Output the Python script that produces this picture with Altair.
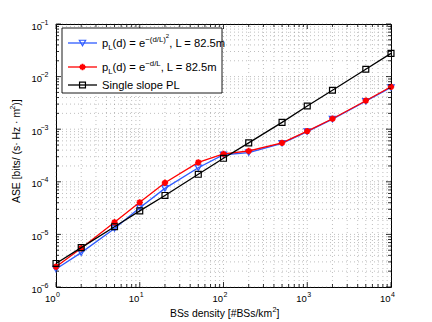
import altair as alt
import pandas as pd

# ---------------- data ----------------
density = [1, 2, 5, 10, 20, 50, 100, 200, 500, 1000, 2000, 5000, 10000]
ase_gauss = [2.2e-6, 4.5e-6, 1.3e-5, 3.2e-5, 7.5e-5, 1.85e-4, 3.27e-4, 3.6e-4, 5.4e-4, 9.0e-4, 1.55e-3, 3.4e-3, 6.2e-3]
ase_exp = [2.43e-6, 5.45e-6, 1.7e-5, 4.07e-5, 9.6e-5, 2.34e-4, 3.38e-4, 3.85e-4, 5.5e-4, 9.2e-4, 1.58e-3, 3.48e-3, 6.4e-3]
ase_single = [2.8e-6, 5.6e-6, 1.4e-5, 2.8e-5, 5.5e-5, 1.39e-4, 2.8e-4, 5.5e-4, 1.35e-3, 2.76e-3, 5.5e-3, 1.38e-2, 2.77e-2]

x_major = [1, 10, 100, 1000, 10000]
x_major_exp = ["0", "1", "2", "3", "4"]
y_major = [1e-6, 1e-5, 1e-4, 1e-3, 1e-2, 1e-1]
y_major_exp = ["\u22126", "\u22125", "\u22124", "\u22123", "\u22122", "\u22121"]

x_minor = [m * 10 ** k for k in range(0, 4) for m in range(2, 10)]
y_minor = [m * 10.0 ** k for k in range(-6, -1) for m in range(2, 10)]

W, H = 335, 263
FONT = "Liberation Sans"

xs = alt.Scale(type="log", domain=[1, 10000], nice=False)
ys = alt.Scale(type="log", domain=[1e-6, 1e-1], nice=False)

df = pd.DataFrame({"d": density, "g": ase_gauss, "e": ase_exp, "s": ase_single})
one = pd.DataFrame({"a": [0]})

AW = {" ": 278, "(": 333, ")": 333, "d": 556, "=": 584, "e": 556, "p": 556, "L": 556,
      ",": 278, ".": 278, "m": 833, "/": 278, "\u2212": 584, "S": 667, "i": 222, "n": 556,
      "g": 556, "l": 222, "o": 556, "P": 667, "B": 667, "s": 500, "#": 556, "k": 500,
      "y": 500, "t": 278, "[": 278, "]": 278, "A": 667, "E": 667, "b": 556, "H": 722,
      "z": 500, "\u00b7": 278}

def tw(s, fs):
    return sum(AW.get(c, 556) for c in s) * fs / 1000.0

# ---------------- grid ----------------
grid_x = alt.Chart(pd.DataFrame({"v": x_major + x_minor})).mark_rule(
    color="#666", strokeDash=[1, 3], strokeWidth=0.7, opacity=0.6
).encode(x=alt.X("v:Q", scale=xs, axis=None))
grid_y = alt.Chart(pd.DataFrame({"v": y_major + y_minor})).mark_rule(
    color="#666", strokeDash=[1, 3], strokeWidth=0.7, opacity=0.6
).encode(y=alt.Y("v:Q", scale=ys, axis=None))

# ---------------- inward ticks ----------------
def xticks(vals, length):
    base = alt.Chart(pd.DataFrame({"v": vals}))
    b = base.mark_rule(color="black", strokeWidth=0.8).encode(
        x=alt.X("v:Q", scale=xs, axis=None), y=alt.value(H), y2=alt.value(H - length))
    t = base.mark_rule(color="black", strokeWidth=0.8).encode(
        x=alt.X("v:Q", scale=xs, axis=None), y=alt.value(0), y2=alt.value(length))
    return [b, t]

def yticks(vals, length):
    base = alt.Chart(pd.DataFrame({"v": vals}))
    l = base.mark_rule(color="black", strokeWidth=0.8).encode(
        y=alt.Y("v:Q", scale=ys, axis=None), x=alt.value(0), x2=alt.value(length))
    r = base.mark_rule(color="black", strokeWidth=0.8).encode(
        y=alt.Y("v:Q", scale=ys, axis=None), x=alt.value(W), x2=alt.value(W - length))
    return [l, r]

ticks = xticks(x_major, 5) + xticks(x_minor, 3) + yticks(y_major, 5) + yticks(y_minor, 3)

# ---------------- tick labels ----------------
xl = pd.DataFrame({"v": x_major, "e": x_major_exp})
xlab_base = alt.Chart(xl).mark_text(font=FONT, fontSize=9.5, align="right", baseline="middle", dx=-0.5).encode(
    x=alt.X("v:Q", scale=xs, axis=None), y=alt.value(H + 12), text=alt.value("10"))
xlab_exp = alt.Chart(xl).mark_text(font=FONT, fontSize=7, align="left", baseline="middle", dx=0).encode(
    x=alt.X("v:Q", scale=xs, axis=None), y=alt.value(H + 7.5), text="e:N")

yl = pd.DataFrame({"v": y_major, "e": y_major_exp})
ylab_base = alt.Chart(yl).mark_text(font=FONT, fontSize=9.5, align="right", baseline="middle", dy=2.5).encode(
    y=alt.Y("v:Q", scale=ys, axis=None), x=alt.value(-14), text=alt.value("10"))
ylab_exp = alt.Chart(yl).mark_text(font=FONT, fontSize=7, align="right", baseline="middle", dy=-1.5).encode(
    y=alt.Y("v:Q", scale=ys, axis=None), x=alt.value(-7.5), text="e:N")

# ---------------- titles ----------------
TF, TS = 10.4, 7.2
xt_main = "BSs density [#BSs/km"
xt0 = 114
xt1 = xt0 + tw(xt_main, TF) + 0.3
xt2 = xt1 + tw("2", TS)
XTY = H + 27
xtitle = alt.Chart(one).mark_text(font=FONT, fontSize=TF, align="left", baseline="middle").encode(
    x=alt.value(xt0), y=alt.value(XTY), text=alt.value(xt_main))
xtitle2 = alt.Chart(one).mark_text(font=FONT, fontSize=TS, align="left", baseline="middle").encode(
    x=alt.value(xt1), y=alt.value(XTY - 4), text=alt.value("2"))
xtitle3 = alt.Chart(one).mark_text(font=FONT, fontSize=TF, align="left", baseline="middle").encode(
    x=alt.value(xt2), y=alt.value(XTY), text=alt.value("]"))

yt_main = "ASE [bits/ (s\u00b7 Hz \u00b7 m"
yt0 = 179
yt1 = yt0 - tw(yt_main, TF) - 0.3
yt2 = yt1 - tw("2", TS)
ytitle = alt.Chart(one).mark_text(font=FONT, fontSize=TF, align="left", baseline="middle", angle=270).encode(
    x=alt.value(-39), y=alt.value(yt0), text=alt.value(yt_main))
ytitle2 = alt.Chart(one).mark_text(font=FONT, fontSize=TS, align="left", baseline="middle", angle=270).encode(
    x=alt.value(-43), y=alt.value(yt1), text=alt.value("2"))
ytitle3 = alt.Chart(one).mark_text(font=FONT, fontSize=TF, align="left", baseline="middle", angle=270).encode(
    x=alt.value(-39), y=alt.value(yt2), text=alt.value(")]"))

# ---------------- series ----------------
asterisk = "M-1,0L1,0M0,-1L0,1M-0.7,-0.7L0.7,0.7M-0.7,0.7L0.7,-0.7"
BLUE = "#2f5bff"

def series(field, color, shape, size, filled=False, sw=1.2):
    base = alt.Chart(df)
    line = base.mark_line(color=color, strokeWidth=1.3).encode(
        x=alt.X("d:Q", scale=xs, axis=None), y=alt.Y(f"{field}:Q", scale=ys, axis=None))
    pts = base.mark_point(shape=shape, size=size, color=color, filled=filled, strokeWidth=sw, opacity=1).encode(
        x=alt.X("d:Q", scale=xs, axis=None), y=alt.Y(f"{field}:Q", scale=ys, axis=None))
    return [line, pts]

lines = (series("g", BLUE, "triangle-down", 40)
         + series("e", "#ff0000", asterisk, 40, sw=1.8)
         + series("s", "black", "square", 35))

# ---------------- legend ----------------
box = alt.Chart(one).mark_rect(fill="white", stroke="black", strokeWidth=0.9).encode(
    x=alt.value(6), x2=alt.value(166), y=alt.value(4), y2=alt.value(69))

def leg_line(y, color):
    return alt.Chart(one).mark_rule(color=color, strokeWidth=1.3).encode(
        x=alt.value(12), x2=alt.value(41), y=alt.value(y))

def leg_pt(y, color, shape, size, sw=1.2):
    return alt.Chart(one).mark_point(shape=shape, size=size, color=color, strokeWidth=sw, opacity=1).encode(
        x=alt.value(26.5), y=alt.value(y))

def leg_text(y, pieces):
    out = []
    x = 46
    for txt, fs, off in pieces:
        out.append(alt.Chart(one).mark_text(font=FONT, fontSize=fs, align="left", baseline="alphabetic").encode(
            x=alt.value(x), y=alt.value(y + off), text=alt.value(txt)))
        x += tw(txt, fs)
    return out

F, S, SS = 11.2, 7.8, 6.0
row1 = 19
row2 = 43
row3 = 61
legend = [box,
          leg_line(row1, BLUE), leg_pt(row1, BLUE, "triangle-down", 40),
          leg_line(row2, "#ff0000"), leg_pt(row2, "#ff0000", asterisk, 40, 1.8),
          leg_line(row3, "black"), leg_pt(row3, "black", "square", 35)]
legend += leg_text(row1 + 4, [("p", F, 0), ("L", S, 3), ("(d) = e", F, 0),
                              ("\u2212(d/L)", S, -5.5), ("2", SS, -9.5), (", L = 82.5m", F, 0)])
legend += leg_text(row2 + 4, [("p", F, 0), ("L", S, 3), ("(d) = e", F, 0),
                              ("\u2212d/L", S, -5.5), (", L = 82.5m", F, 0)])
legend += leg_text(row3 + 4, [("Single slope PL", F, 0)])

chart = alt.layer(
    grid_x, grid_y, *lines, *ticks, *legend,
    xlab_base, xlab_exp, ylab_base, ylab_exp,
    xtitle, xtitle2, xtitle3, ytitle, ytitle2, ytitle3,
).properties(
    width=W, height=H, autosize="none",
    padding={"left": 48, "top": 16, "right": 33, "bottom": 35},
).configure_view(stroke="black", strokeWidth=1)

chart.save("out.html", embed_options={"renderer": "svg", "actions": False})
